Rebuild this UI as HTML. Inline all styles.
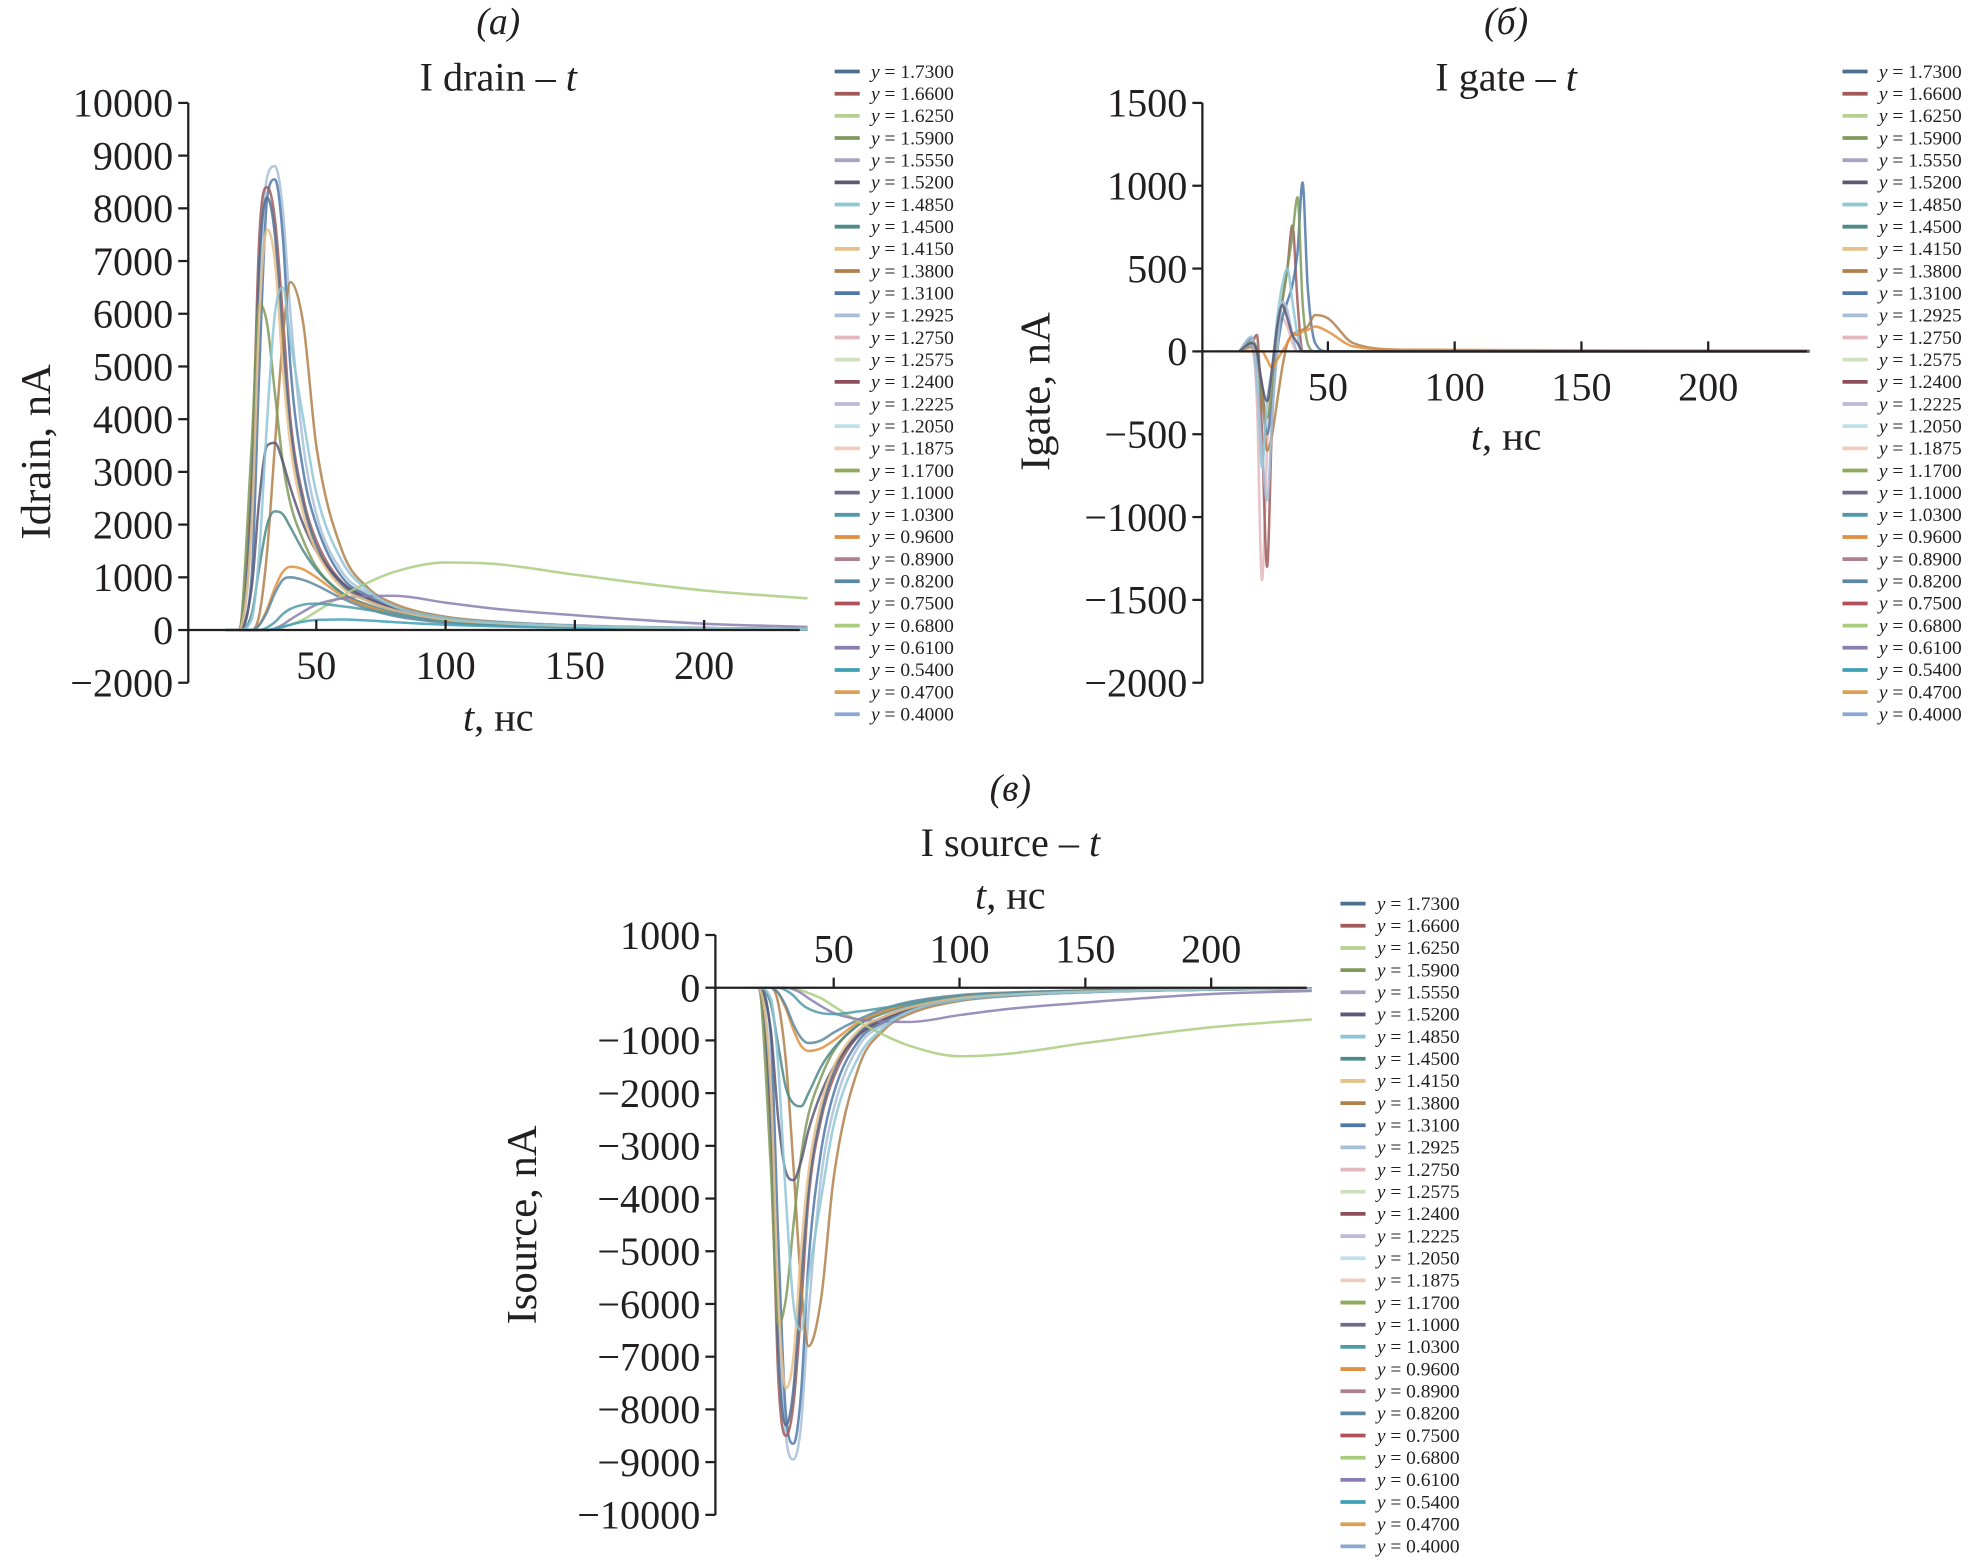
<!DOCTYPE html>
<html><head><meta charset="utf-8"><style>
html,body{margin:0;padding:0;background:#fff}
svg{display:block}
text{font-family:"Liberation Serif",serif;fill:#231f20}
</style></head><body>
<svg id="fig" width="1968" height="1560" viewBox="0 0 1568 1243" preserveAspectRatio="none"></svg>
<script>
const legendLabels=["1.7300","1.6600","1.6250","1.5900","1.5550","1.5200","1.4850","1.4500","1.4150","1.3800","1.3100","1.2925","1.2750","1.2575","1.2400","1.2225","1.2050","1.1875","1.1700","1.1000","1.0300","0.9600","0.8900","0.8200","0.7500","0.6800","0.6100","0.5400","0.4700","0.4000"];
const colors=["#4f6f8f","#a05a5a","#b7d08f","#7f9a5a","#a9a3c2","#5b5878","#8ec6d6","#4f8a8a","#e8c08a","#b0804a","#4f78a8","#a7c0d8","#e3b8be","#cfe0bc","#8f4f5a","#bdb8d3","#bfe0ea","#f0cdb8","#8faa5a","#6f6a88","#4f9aa8","#e08f40","#b07f8f","#5a88a0","#b0505a","#a9cc7f","#8a7fb0","#40a0b8","#d8a050","#8aa8d0"];
const ticksA=[10000,9000,8000,7000,6000,5000,4000,3000,2000,1000,0,-1000];
const tickLabelsA=["10000","9000","8000","7000","6000","5000","4000","3000","2000","1000","0","\u22122000"];
const ticksB=[1500,1000,500,0,-500,-1000,-1500,-2000];
const tickLabelsB=["1500","1000","500","0","\u2212500","\u22121000","\u22121500","\u22122000"];
const ticksC=[1000,0,-1000,-2000,-3000,-4000,-5000,-6000,-7000,-8000,-9000,-10000];
const tickLabelsC=["1000","0","\u22121000","\u22122000","\u22123000","\u22124000","\u22125000","\u22126000","\u22127000","\u22128000","\u22129000","\u221210000"];
const ticksX=[50,100,150,200];
const T=[15,20,25,28,31,34,37,40,45,50,60,70,80,100,120,150,200,240];
const drainIdx=[11,10,1,0,9,3,5,7,21,23,25,26,20,27,8,6];
const drainVals=[
[0,0,2000,6500,8600,8800,8000,6000,3500,2200,1100,700,450,250,160,90,40,20],
[0,0,1000,5000,8200,8550,7500,5000,3000,2000,1000,650,420,230,150,80,35,20],
[0,0,3000,7500,8400,7800,6000,4000,2500,1700,900,600,400,220,140,80,35,20],
[0,0,2500,7000,8200,7500,5500,3800,2400,1600,850,550,380,210,130,75,30,20],
[0,0,0,300,1500,3500,5500,6600,5800,3500,1500,800,500,250,150,80,35,20],
[0,0,3500,6200,5800,4500,3200,2400,1700,1200,700,450,300,170,110,60,25,10],
[0,0,800,2500,3500,3550,3200,2700,2000,1500,900,600,400,220,140,80,35,20],
[0,0,300,1200,2000,2250,2200,1950,1500,1150,700,480,330,180,110,60,25,15],
[0,0,0,100,400,800,1100,1200,1150,1000,650,450,300,160,100,55,25,10],
[0,0,0,100,350,700,950,1000,950,850,600,400,270,140,90,50,20,10],
[0,0,0,0,0,20,50,100,200,350,650,900,1100,1280,1250,1050,750,600],
[0,0,0,0,0,30,100,200,350,480,600,640,650,520,400,280,120,60],
[0,0,0,0,50,150,300,400,480,500,450,380,300,180,120,70,30,15],
[0,0,0,0,0,20,60,100,160,190,200,180,150,100,70,40,20,10],
[0,0,2000,6000,7600,7000,5000,3500,2200,1500,800,550,380,200,130,75,30,20],
[0,0,200,1500,4000,6000,6500,5500,4000,2600,1300,750,450,230,140,80,35,20]];
const TG=[15,20,22,24,26,28,30,32,34,36,38,40,42,45,50,60,80,240];
const gateIdx=[12,1,10,3,9,6,11,21,5];
const gateVals=[
[0,20,-300,-1380,-600,-100,100,200,150,50,0,0,0,0,0,0,0,0],
[0,50,100,-500,-1300,-400,100,300,500,760,300,0,0,0,0,0,0,0],
[0,80,-50,-200,-500,-300,0,200,300,400,600,1020,400,50,0,0,0,0],
[0,60,0,-300,-400,-200,100,300,500,700,930,300,50,0,0,0,0,0],
[0,30,-100,-200,-600,-500,-300,-100,50,100,120,130,150,220,200,50,10,0],
[0,40,-100,-700,-300,-100,200,400,500,300,100,0,0,0,0,0,0,0],
[0,90,-200,-600,-900,-400,0,300,250,100,0,0,0,0,0,0,0,0],
[0,0,0,0,-50,-100,-50,0,50,100,100,120,130,150,120,30,10,5],
[0,50,0,-200,-300,-100,150,280,200,100,50,0,0,0,0,0,0,0]];
const sourceIdx=[11,10,1,0,9,3,5,7,21,23,25,26,20,8,6];
const sourceVals=[
[0,0,-1800,-6200,-8500,-8950,-8300,-6200,-3600,-2300,-1100,-700,-450,-250,-160,-90,-40,-20],
[0,0,-900,-4800,-8100,-8650,-7700,-5200,-3100,-2000,-1000,-650,-420,-230,-150,-80,-35,-20],
[0,0,-2800,-7400,-8500,-7900,-6100,-4000,-2500,-1700,-900,-600,-400,-220,-140,-80,-35,-20],
[0,0,-2400,-6900,-8300,-7600,-5600,-3800,-2400,-1600,-850,-550,-380,-210,-130,-75,-30,-20],
[0,0,0,-300,-1400,-3400,-5600,-6800,-5900,-3600,-1500,-800,-500,-250,-150,-80,-35,-20],
[0,0,-3400,-6400,-5900,-4500,-3200,-2400,-1700,-1200,-700,-450,-300,-170,-110,-60,-25,-10],
[0,0,-800,-2500,-3500,-3650,-3300,-2700,-2000,-1500,-900,-600,-400,-220,-140,-80,-35,-20],
[0,0,-300,-1100,-1900,-2200,-2250,-2000,-1500,-1150,-700,-480,-330,-180,-110,-60,-25,-15],
[0,0,0,-100,-400,-800,-1100,-1200,-1150,-1000,-650,-450,-300,-160,-100,-55,-25,-10],
[0,0,0,-100,-350,-700,-950,-1050,-1000,-850,-600,-400,-270,-140,-90,-50,-20,-10],
[0,0,0,0,0,-20,-50,-100,-200,-350,-650,-900,-1100,-1300,-1250,-1050,-750,-600],
[0,0,0,0,0,-30,-100,-200,-350,-480,-600,-640,-650,-520,-400,-280,-120,-60],
[0,0,0,0,-50,-150,-300,-400,-480,-500,-450,-380,-300,-180,-120,-70,-30,-15],
[0,0,-1900,-5900,-7600,-7000,-5000,-3500,-2200,-1500,-800,-550,-380,-200,-130,-75,-30,-20],
[0,0,-200,-1500,-4000,-6000,-6500,-5500,-4000,-2600,-1300,-750,-450,-230,-140,-80,-35,-20]];

const NS="http://www.w3.org/2000/svg";
const svg=document.getElementById('fig');
function mk(tag,attrs,parent){const e=document.createElementNS(NS,tag);for(const k in attrs)e.setAttribute(k,attrs[k]);(parent||svg).appendChild(e);return e;}
function txt(s,x,y,size,anchor,parent,style){const e=mk('text',{x:x,y:y,'font-size':size,'text-anchor':anchor||'middle'},parent);if(style)e.setAttribute('font-style',style);e.textContent=s;return e;}
// monotone cubic (Fritsch-Carlson) path
function smooth(p){const n=p.length;const d=[],m=new Array(n);for(let i=0;i<n-1;i++)d.push((p[i+1][1]-p[i][1])/(p[i+1][0]-p[i][0]));m[0]=d[0];m[n-1]=d[n-2];for(let i=1;i<n-1;i++){m[i]=(d[i-1]*d[i]<=0)?0:(d[i-1]+d[i])/2;}
for(let i=0;i<n-1;i++){if(d[i]===0){m[i]=0;m[i+1]=0;continue;}const a=m[i]/d[i],b=m[i+1]/d[i],s=a*a+b*b;if(s>9){const t=3/Math.sqrt(s);m[i]=t*a*d[i];m[i+1]=t*b*d[i];}}
let s='M'+p[0][0].toFixed(1)+','+p[0][1].toFixed(1);for(let i=0;i<n-1;i++){const h=(p[i+1][0]-p[i][0])/3;s+='C'+(p[i][0]+h).toFixed(1)+','+(p[i][1]+m[i]*h).toFixed(1)+' '+(p[i+1][0]-h).toFixed(1)+','+(p[i+1][1]-m[i+1]*h).toFixed(1)+' '+p[i+1][0].toFixed(1)+','+p[i+1][1].toFixed(1);}return s;}

function panel(cfg){
  const g=mk('g',{});
  
  
  const sx=t=>cfg.x0+t*cfg.kx;
  const sy=v=>cfg.y0-v*cfg.ky;
  const top=sy(cfg.ticks[0]),bot=sy(cfg.ticks[cfg.ticks.length-1]);
  const sg=mk('g',{fill:'none','stroke-width':2,'stroke-opacity':0.85},g);
  
  
  cfg.vals.forEach((vals,i)=>{
    const pts=cfg.T.map((t,j)=>[sx(t),sy(vals[j])]);
    const p=mk('path',{d:smooth(pts),stroke:colors[cfg.idx[i]]},sg);
    
    
  });
  const ya=mk('line',{x1:cfg.ax,y1:top,x2:cfg.ax,y2:bot,stroke:'#231f20','stroke-width':1.8},g);
  
  
  cfg.ticks.forEach((v,i)=>{
    mk('line',{x1:cfg.ax-8,y1:sy(v),x2:cfg.ax,y2:sy(v),stroke:'#231f20','stroke-width':1.8},g);
    const l=txt(cfg.labels[i],cfg.ax-12,sy(v)+11,32,'end',g);
    
    
  });
  const xa=mk('line',{x1:cfg.ax,y1:sy(0),x2:sx(cfg.tmax),y2:sy(0),stroke:'#231f20','stroke-width':1.8},g);
  
  
  ticksX.forEach(t=>{
    mk('line',{x1:sx(t),y1:sy(0)-8,x2:sx(t),y2:sy(0),stroke:'#231f20','stroke-width':1.8},g);
    const l=txt(String(t),sx(t),cfg.xlabY,32,'middle',g);
    
    
  });
  const tag=txt(cfg.tag,cfg.cx,cfg.tagY,30,'middle',g,'italic');
  
  
  const tt=mk('text',{x:cfg.cx,y:cfg.titleY,'font-size':32,'text-anchor':'middle'},g);
  
  
  tt.innerHTML=cfg.title+' \u2013 <tspan font-style="italic">t</tspan>';
  const xt=mk('text',{x:cfg.cx,y:cfg.xtY,'font-size':32,'text-anchor':'middle'},g);
  
  
  xt.innerHTML='<tspan font-style="italic">t</tspan>, нс';
  const yt=txt(cfg.ytitle,0,0,34,'middle',g);
  yt.setAttribute('transform','translate('+cfg.ytX+','+cfg.ytY+') rotate(-90)');
  
  
  const lg=mk('g',{},g);
  
  
  legendLabels.forEach((lab,i)=>{
    const y=cfg.lgY+i*17.66;
    const e=mk('g',{},lg);
    
    
    mk('line',{x1:cfg.lgX,y1:y,x2:cfg.lgX+20,y2:y,stroke:colors[i],'stroke-width':3},e);
    const t=mk('text',{x:cfg.lgX+29,y:y+5,'font-size':15.5},e);
    t.innerHTML='<tspan font-style="italic">y</tspan> = '+lab;
  });
}
panel({name:'drain-chart',T:T,vals:drainVals,idx:drainIdx,ticks:ticksA,labels:tickLabelsA,x0:149,kx:2.06,y0:502,ky:0.042,ax:150,tmax:237,xlabY:541,tag:'(a)',tagY:27,title:'I drain',titleY:72,cx:397,xtY:582,ytitle:'Idrain, nA',ytX:40,ytY:360,lgX:665,lgY:57});
panel({name:'gate-chart',T:TG,vals:gateVals,idx:gateIdx,ticks:ticksB,labels:tickLabelsB,x0:957,kx:2.02,y0:280,ky:0.132,ax:958,tmax:239,xlabY:319,tag:'(б)',tagY:27,title:'I gate',titleY:72,cx:1200,xtY:358,ytitle:'Igate, nA',ytX:836,ytY:312,lgX:1468,lgY:57});
panel({name:'source-chart',T:T,vals:sourceVals,idx:sourceIdx,ticks:ticksC,labels:tickLabelsC,x0:564,kx:2.005,y0:787,ky:0.042,ax:570,tmax:238,xlabY:767,tag:'(в)',tagY:638,title:'I source',titleY:682,cx:805,xtY:724,ytitle:'Isource, nA',ytX:427,ytY:976,lgX:1068,lgY:720});
</script>
</body></html>
